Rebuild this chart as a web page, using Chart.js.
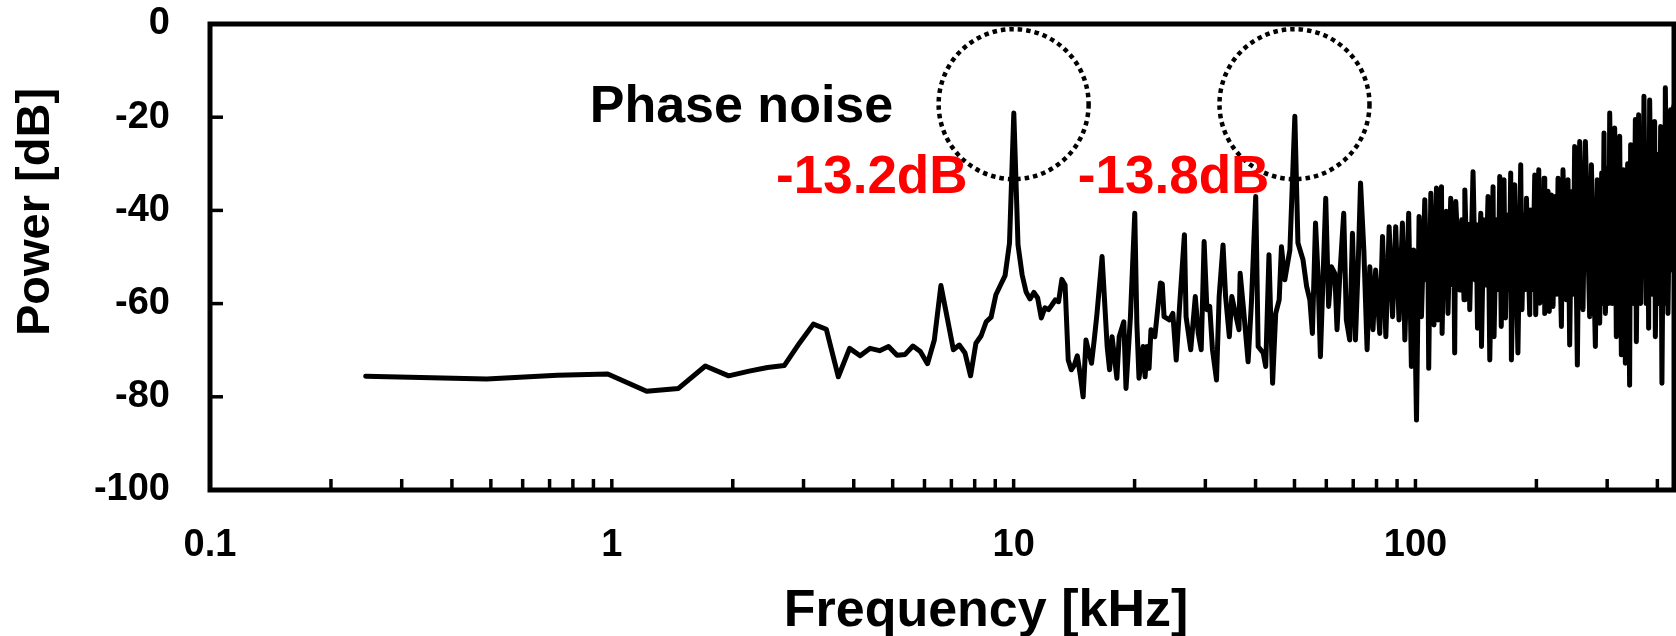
<!DOCTYPE html>
<html>
<head>
<meta charset="utf-8">
<script src="https://cdn.jsdelivr.net/npm/chart.js@4.4.1/dist/chart.umd.min.js"></script>
<style>
  html, body { margin: 0; padding: 0; background: #fff; }
</style>
</head>
<body>
<canvas id="spectrum" width="1676" height="636"></canvas>
<script>
// spectrum: frequency in kHz, power in dB
// first part is one value per FFT bin (0.244 kHz apart)
const freqLow = [
  0.244, 0.488, 0.732, 0.977, 1.221, 1.465, 1.709, 1.953, 2.197, 2.441,
  2.686, 2.930, 3.174, 3.418, 3.662, 3.906, 4.150, 4.395, 4.639, 4.883,
  5.127, 5.371, 5.615, 5.859, 6.104, 6.348, 6.592, 6.836, 7.080, 7.324,
  7.568, 7.813, 8.057, 8.301, 8.545, 8.789, 9.033, 9.277, 9.521, 9.766,
  10.010, 10.254, 10.498, 10.742, 10.986, 11.230, 11.475, 11.719, 11.963, 12.207,
  12.451, 12.695, 12.939, 13.184, 13.428, 13.672, 13.916, 14.160, 14.404, 14.648,
  14.893, 15.137, 15.381, 15.625, 15.869, 16.113
];
const powerLow = [
  -75.6, -76.2, -75.4, -75.1, -78.8, -78.2, -73.4, -75.5, -74.5, -73.7,
  -73.3, -68.5, -64.4, -65.5, -75.7, -69.6, -71.2, -69.6, -70.1, -69.2,
  -71.1, -70.9, -69.1, -70.3, -72.9, -67.8, -56.1, -63.1, -69.9, -68.9,
  -70.6, -75.5, -68.5, -66.9, -63.9, -62.9, -58.1, -56.0, -54.0, -47.0,
  -19.1, -47.4, -53.8, -57.5, -59.0, -57.6, -58.8, -63.1, -60.9, -61.3,
  -60.3, -59.2, -59.6, -54.8, -56.0, -72.1, -74.2, -73.2, -71.2, -75.3,
  -80.0, -67.8, -70.4, -72.8, -67.8, -62.4
];

const freqMid = [
  16.60, 17.09, 17.33, 17.58, 18.07, 18.31, 18.80, 19.04, 19.53, 20.02,
  20.26, 20.51, 21.00, 21.24, 21.48, 21.73, 21.97, 22.46, 23.19, 23.44,
  23.68, 24.41, 24.90, 25.39, 25.88, 26.61, 26.86, 27.59, 28.32, 28.81,
  29.30, 29.79, 30.27, 30.76, 31.25, 31.98, 32.47, 33.20, 33.69, 34.42,
  34.91, 35.64, 36.38, 36.62, 37.35, 38.33, 39.06, 40.04,
  40.6, 41.8, 42.4, 43.2, 44.1, 44.9, 45.8, 46.4, 47.3, 48.7,
  50.1, 51.0, 52.5, 53.6, 54.6, 55.4, 56.4, 57.2, 58.0, 58.9,
  59.8, 60.8, 61.8, 63.0, 63.8, 64.8, 66.3, 67.3, 68.6, 69.7,
  70.9, 72.0, 73.0, 74.4, 75.8, 77.0, 78.4, 79.6, 81.5, 82.8,
  84.4, 86.0, 87.7, 89.3, 91.0, 92.8, 94.1, 96.2, 97.7, 99.0
];
const powerMid = [
  -49.9, -69.2, -74.2, -67.1, -76.0, -67.1, -63.9, -78.2, -62.8, -40.6,
  -64.2, -76.0, -69.2, -75.7, -69.2, -73.9, -65.6, -67.1, -55.6, -55.8,
  -62.8, -63.5, -62.1, -72.1, -60.6, -45.2, -62.8, -69.9, -58.5, -66.4,
  -69.9, -46.7, -61.3, -60.6, -69.9, -76.4, -58.5, -47.4, -58.5, -67.1,
  -58.5, -62.1, -65.6, -53.5, -61.3, -72.5, -59.9, -37.0,
  -69.2, -70.6, -73.5, -49.5, -77.1, -62.1, -59.2, -47.8, -54.9, -48.5,
  -19.8, -47.0, -50.6, -56.3, -59.2, -66.4, -42.7, -53.5, -71.4, -54.2,
  -37.4, -60.6, -52.1, -53.5, -65.6, -54.2, -40.6, -63.5, -67.8, -44.9,
  -67.8, -52.1, -34.1, -48.5, -69.9, -52.1, -65.6, -52.8, -66.4, -45.6,
  -67.1, -43.5, -62.8, -43.5, -63.5, -42.7, -67.8, -40.6, -73.5, -48.5
];

// above 100 kHz the trace is a dense band: peaks and dips as read
const freqHigh = [
  100.6, 102.1, 103.5, 105.5, 106.7, 107.3, 107.9, 109.2, 111.2, 112.8,
  113.8, 116.1, 116.5, 117.9, 118.6, 119.4, 120.5, 122.4, 123.8, 124.5,
  125.2, 126.0, 128.9, 130.4, 132.1, 132.7, 134.6, 135.7, 136.5, 139.1,
  140.9, 141.7, 142.7, 145.4, 146.0, 147.9, 149.6, 151.6, 153.1, 156.0,
  156.9, 158.9, 160.7, 162.1, 163.5, 166.1, 167.5, 169.7, 171.2, 172.6,
  173.3, 176.6, 179.9, 182.8, 184.1, 186.5, 187.6, 188.9, 192.5, 193.6,
  195.8, 198.1, 199.2, 202.7, 203.8, 206.2, 207.4, 208.9, 209.8, 213.8,
  215.3, 218.0, 220.0, 222.8, 224.7, 226.4, 230.8, 232.9, 237.5, 239.7,
  242.0, 244.8, 246.9, 249.0, 252.9, 256.3, 261.2, 264.8, 271.4, 274.1,
  280.4, 283.6, 287.4, 290.7, 292.4, 294.6, 297.0, 300.9, 302.7, 304.4,
  308.8, 313.2, 316.2, 322.3, 325.4, 329.7, 332.9, 337.4, 341.2, 343.2,
  349.1, 352.6, 354.6, 359.3, 363.4, 366.2, 368.3, 370.4, 375.1, 378.4,
  380.5, 382.7, 388.2, 393.8, 395.4, 400.6, 404.1, 407.6, 410.6, 414.7,
  417.0, 418.7, 425.0, 431.6, 434.8, 439.1
];
const powerHigh = [
  -85.0, -41.3, -62.8, -37.7, -55, -44, -73.9, -36.3, -64.6, -35.2,
  -63.5, -34.9, -66.4, -43, -55, -40.2, -62.1, -37.4, -56, -44,
  -70.6, -38.1, -57.1, -42, -59.2, -35.6, -55, -43, -61.3, -31.7,
  -55, -43, -65.3, -40.6, -69.2, -42, -56, -37.0, -72.1, -34.9,
  -67.1, -42, -57, -32.7, -64.9, -33.4, -63.1, -41, -57, -32.0,
  -72.1, -34.5, -70.6, -30.2, -61.3, -41, -57, -37.4, -62.4, -39.9,
  -57, -32.4, -62.4, -31.3, -59.9, -38, -57, -33.1, -62.1, -35.9,
  -61.7, -36.7, -60.6, -37, -58, -33.1, -64.9, -31.3, -59.2, -33.4,
  -68.9, -36, -58, -26.3, -73.2, -25.2, -61.3, -25.2, -62.8, -30.2,
  -69.2, -33.4, -64.2, -32, -60, -23.4, -62.1, -31, -60, -19.1,
  -60, -22.3, -67.1, -24.1, -71.0, -31.3, -72.8, -30, -77.5, -25.9,
  -60, -20.5, -68.2, -19.5, -60, -28, -53.5, -15.5, -60, -30,
  -65.3, -16.3, -58, -20.9, -67.1, -28, -60, -22.0, -77.1, -30,
  -60, -13.7, -62.1, -18.4, -52.8, -17.7
];

// axes
const xTickValues = [
  0.1, 0.2, 0.3, 0.4, 0.5, 0.6, 0.7, 0.8, 0.9,
  1, 2, 3, 4, 5, 6, 7, 8, 9,
  10, 20, 30, 40, 50, 60, 70, 80, 90,
  100, 200, 300, 400
];
const xLabelValues = [0.1, 1, 10, 100];
const xTickLabels = ['0.1', '1', '10', '100'];
const yTickValues = [0, -20, -40, -60, -80, -100];

// annotations on the plot
const noteTexts = ['Phase noise', '-13.2dB', '-13.8dB'];
const noteFreq = [0.881, 2.563, 14.45];
const noteDb = [-21.1, -36.3, -36.2];
const circleFreq = [10, 50];
const circleDb = [-17.2, -17.2];

const FONT = "'Liberation Sans', Arial, sans-serif";

const freqKHz = freqLow.concat(freqMid, freqHigh);
const powerDb = powerLow.concat(powerMid, powerHigh);
const points = freqKHz.map((f, i) => ({x: f, y: powerDb[i]}));

// inward tick marks and the box round the plot
const frameTicks = {
  id: 'frameTicks',
  afterDraw(chart) {
    const {ctx, chartArea: a, scales: {x, y}} = chart;
    ctx.save();
    ctx.strokeStyle = '#000';
    ctx.lineWidth = 3.5;
    xTickValues.forEach(v => {
      const px = x.getPixelForValue(v);
      ctx.beginPath();
      ctx.moveTo(px, a.bottom);
      ctx.lineTo(px, a.bottom - 11);
      ctx.stroke();
    });
    yTickValues.forEach(v => {
      const py = y.getPixelForValue(v);
      ctx.beginPath();
      ctx.moveTo(a.left, py);
      ctx.lineTo(a.left + 13, py);
      ctx.stroke();
    });
    ctx.lineWidth = 5;
    ctx.strokeRect(a.left, a.top, a.right - a.left, a.bottom - a.top);
    ctx.restore();
  }
};

// dotted circles, labels and axis titles
const notes = {
  id: 'notes',
  afterDraw(chart) {
    const {ctx, scales: {x, y}} = chart;
    ctx.save();

    ctx.strokeStyle = '#000';
    ctx.lineWidth = 4.5;
    ctx.setLineDash([4.5, 4]);
    circleFreq.forEach((f, i) => {
      ctx.beginPath();
      ctx.arc(x.getPixelForValue(f), y.getPixelForValue(circleDb[i]), 75, 0, Math.PI * 2);
      ctx.stroke();
    });
    ctx.setLineDash([]);

    ctx.textBaseline = 'alphabetic';
    ctx.textAlign = 'left';
    noteTexts.forEach((t, i) => {
      ctx.fillStyle = i === 0 ? '#000' : '#ff0000';
      ctx.font = (i === 0 ? 'bold 52px ' : 'bold 53px ') + FONT;
      ctx.fillText(t, x.getPixelForValue(noteFreq[i]), y.getPixelForValue(noteDb[i]));
    });

    // axis titles
    ctx.fillStyle = '#000';
    ctx.textAlign = 'center';
    ctx.font = 'bold 52px ' + FONT;
    ctx.fillText('Frequency [kHz]', 986, 626);
    ctx.translate(49, 212);
    ctx.rotate(-Math.PI / 2);
    ctx.font = 'bold 47px ' + FONT;
    ctx.fillText('Power [dB]', 0, 0);
    ctx.restore();
  }
};

new Chart(document.getElementById('spectrum'), {
  type: 'line',
  data: {
    datasets: [{
      data: points,
      borderColor: '#000',
      borderWidth: 5,
      borderJoinStyle: 'round',
      borderCapStyle: 'round',
      pointRadius: 0,
      tension: 0,
      fill: false
    }]
  },
  options: {
    responsive: false,
    animation: false,
    devicePixelRatio: 1,
    layout: { padding: { top: 24, right: 2, left: 0, bottom: 0 } },
    plugins: { legend: { display: false }, tooltip: { enabled: false } },
    scales: {
      x: {
        type: 'logarithmic',
        min: 0.1,
        max: 440,
        grid: { display: false, drawTicks: false },
        border: { display: false },
        afterBuildTicks: s => { s.ticks = xTickValues.map(v => ({value: v})); },
        afterFit: s => {
          s.height = 146;
          s.paddingLeft = 0;
          s.paddingRight = 0;
        },
        ticks: {
          autoSkip: false,
          maxRotation: 0,
          padding: 33,
          color: '#000',
          font: { family: FONT, size: 38, weight: 'bold' },
          callback: v => {
            const i = xLabelValues.indexOf(v);
            return i >= 0 ? xTickLabels[i] : '';
          }
        }
      },
      y: {
        min: -100,
        max: 0,
        grid: { display: false, drawTicks: false },
        border: { display: false },
        afterBuildTicks: s => { s.ticks = yTickValues.map(v => ({value: v})); },
        afterFit: s => {
          s.width = 210;
          s.paddingTop = 0;
          s.paddingBottom = 0;
        },
        ticks: {
          padding: 40,
          color: '#000',
          font: { family: FONT, size: 38, weight: 'bold' },
          callback: v => String(v)
        }
      }
    }
  },
  plugins: [frameTicks, notes]
});
</script>
</body>
</html>
